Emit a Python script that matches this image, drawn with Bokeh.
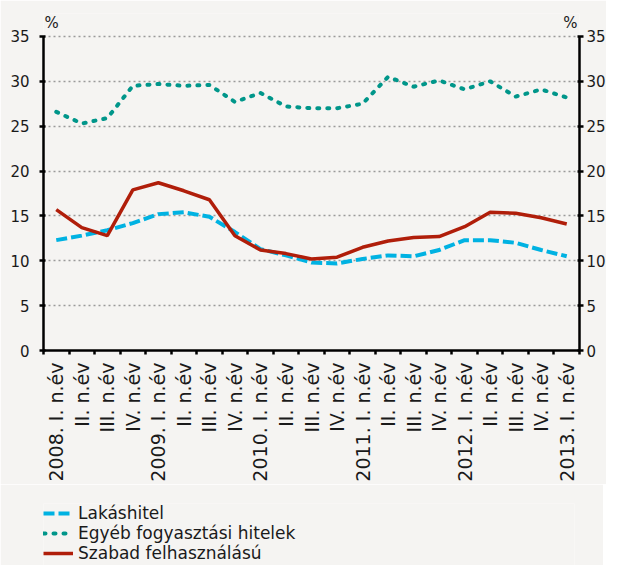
import math
from bokeh.plotting import figure
from bokeh.layouts import column
from bokeh.models import (Range1d, LinearAxis, FixedTicker, Legend, LegendItem, Label)
from bokeh.embed import file_html
from bokeh.resources import INLINE

# ---- data ----
categories = [
    "2008. I. n.év", "II. n.év", "III. n.év", "IV. n.év",
    "2009. I. n.év", "II. n.év", "III. n.év", "IV. n.év",
    "2010. I. n.év", "II. n.év", "III. n.év", "IV. n.év",
    "2011. I. n.év", "II. n.év", "III. n.év", "IV. n.év",
    "2012. I. n.év", "II. n.év", "III. n.év", "IV. n.év",
    "2013. I. n.év",
]
lakashitel = [12.3, 12.8, 13.4, 14.2, 15.2, 15.4, 14.9, 13.2, 11.3, 10.6, 9.8,
              9.7, 10.2, 10.6, 10.5, 11.2, 12.3, 12.3, 12.0, 11.2, 10.5]
egyeb = [26.6, 25.3, 25.9, 29.5, 29.7, 29.5, 29.6, 27.7, 28.7, 27.2, 27.0,
         27.0, 27.5, 30.5, 29.4, 30.1, 29.1, 30.0, 28.3, 29.1, 28.2]
szabad = [15.7, 13.7, 12.8, 17.9, 18.7, 17.8, 16.8, 12.8, 11.2, 10.8, 10.2,
          10.4, 11.5, 12.2, 12.6, 12.7, 13.8, 15.4, 15.3, 14.8, 14.1]
y_ticks = [0, 5, 10, 15, 20, 25, 30, 35]
series_names = ["Lakáshitel", "Egyéb fogyasztási hitelek", "Szabad felhasználású"]
unit = "%"

x = list(range(len(categories)))
series = [lakashitel, egyeb, szabad]

BG = "#F5F4F2"
FONT = "DejaVu Sans"
Y_MAX = 35
Y_TOP = 37.56  # frame reaches a little above 35 so the "%" marks are visible

styles = [
    dict(line_color="#00B2E2", line_width=4, line_dash="11 4"),
    dict(line_color="#00968A", line_width=4, line_dash="2 8", line_cap="round"),
    dict(line_color="#B01E0A", line_width=3.5),
]

p = figure(frame_width=536, frame_height=337, output_backend="svg", toolbar_location=None,
           x_range=Range1d(-0.5, len(categories) - 0.5), y_range=Range1d(0, Y_TOP),
           min_border_left=41, min_border_right=10, min_border_top=13,
           min_border_bottom=0)
p.background_fill_color = BG
p.border_fill_color = BG
p.outline_line_color = None

# x axis
p.xaxis.ticker = FixedTicker(ticks=x, minor_ticks=[i - 0.5 for i in range(len(categories) + 1)])
p.xaxis.major_label_overrides = {i: c for i, c in zip(x, categories)}
p.xaxis.major_label_orientation = math.pi / 2
p.xaxis.major_tick_out = 0
p.xaxis.major_tick_in = 0
p.xaxis.minor_tick_out = 4
p.xaxis.minor_tick_in = 0
p.xaxis.minor_tick_line_color = "black"
p.xaxis.minor_tick_line_width = 2.5
p.xaxis.axis_line_width = 2.5
p.xaxis.axis_line_color = "black"
p.xaxis.major_label_standoff = 8
p.xaxis.major_label_text_font = FONT
p.xaxis.major_label_text_font_size = "19px"
p.xaxis.major_label_text_color = "#1a1a1a"

# y axes
p.yaxis.ticker = FixedTicker(ticks=y_ticks)
right = LinearAxis(ticker=FixedTicker(ticks=y_ticks))
p.add_layout(right, "right")
for ax in [p.yaxis[0], right]:
    ax.bounds = (0, Y_MAX)
    ax.minor_tick_line_color = None
    ax.major_tick_in = 2
    ax.major_tick_out = 4
    ax.major_tick_line_width = 2.5
    ax.major_tick_line_color = "black"
    ax.axis_line_width = 2.5
    ax.axis_line_color = "black"
    ax.major_label_text_font = FONT
    ax.major_label_text_font_size = "15px"
    ax.major_label_text_color = "#1a1a1a"
p.yaxis[0].major_label_standoff = 10
right.major_label_standoff = 3

p.xgrid.grid_line_color = None
p.ygrid.ticker = FixedTicker(ticks=y_ticks[1:])
p.ygrid.grid_line_color = "#9a9a9a"
p.ygrid.grid_line_width = 1.5
p.ygrid.grid_line_dash = "2 3"

for ys, st in zip(series, styles):
    p.line(x, ys, **st)

p.add_layout(Label(x=-0.5, y=Y_MAX, x_offset=1, y_offset=4, text=unit, text_font=FONT,
                   text_font_size="15px", text_color="#1a1a1a", text_baseline="bottom"))
p.add_layout(Label(x=len(categories) - 0.5, y=Y_MAX, x_offset=-2, y_offset=4, text=unit,
                   text_font=FONT, text_font_size="15px", text_color="#1a1a1a",
                   text_baseline="bottom", text_align="right"))

# legend strip below the chart (its lines use the same series, out of view)
lg = figure(width=603, height=81, output_backend="svg", toolbar_location=None,
            x_range=Range1d(-0.5, len(categories) - 0.5), y_range=Range1d(100, 101),
            x_axis_location=None, y_axis_location=None,
            min_border_left=43, min_border_right=0, min_border_top=19, min_border_bottom=0)
lg.background_fill_color = BG
lg.border_fill_color = BG
lg.outline_line_color = None
lg.grid.visible = False
items = []
for name, ys, st in zip(series_names, series, styles):
    r = lg.line(x, ys, **st)
    items.append(LegendItem(label=name, renderers=[r]))
legend = Legend(items=items, location="top_left", orientation="vertical",
                label_text_font=FONT, label_text_font_size="17px", label_text_color="#1a1a1a",
                label_height=20, glyph_height=20, glyph_width=30, label_standoff=5,
                spacing=0, padding=0, margin=0, border_line_color=None,
                background_fill_alpha=0)
lg.add_layout(legend)

layout = column(p, lg, spacing=0)
open("out.html", "w").write(file_html(layout, INLINE))
